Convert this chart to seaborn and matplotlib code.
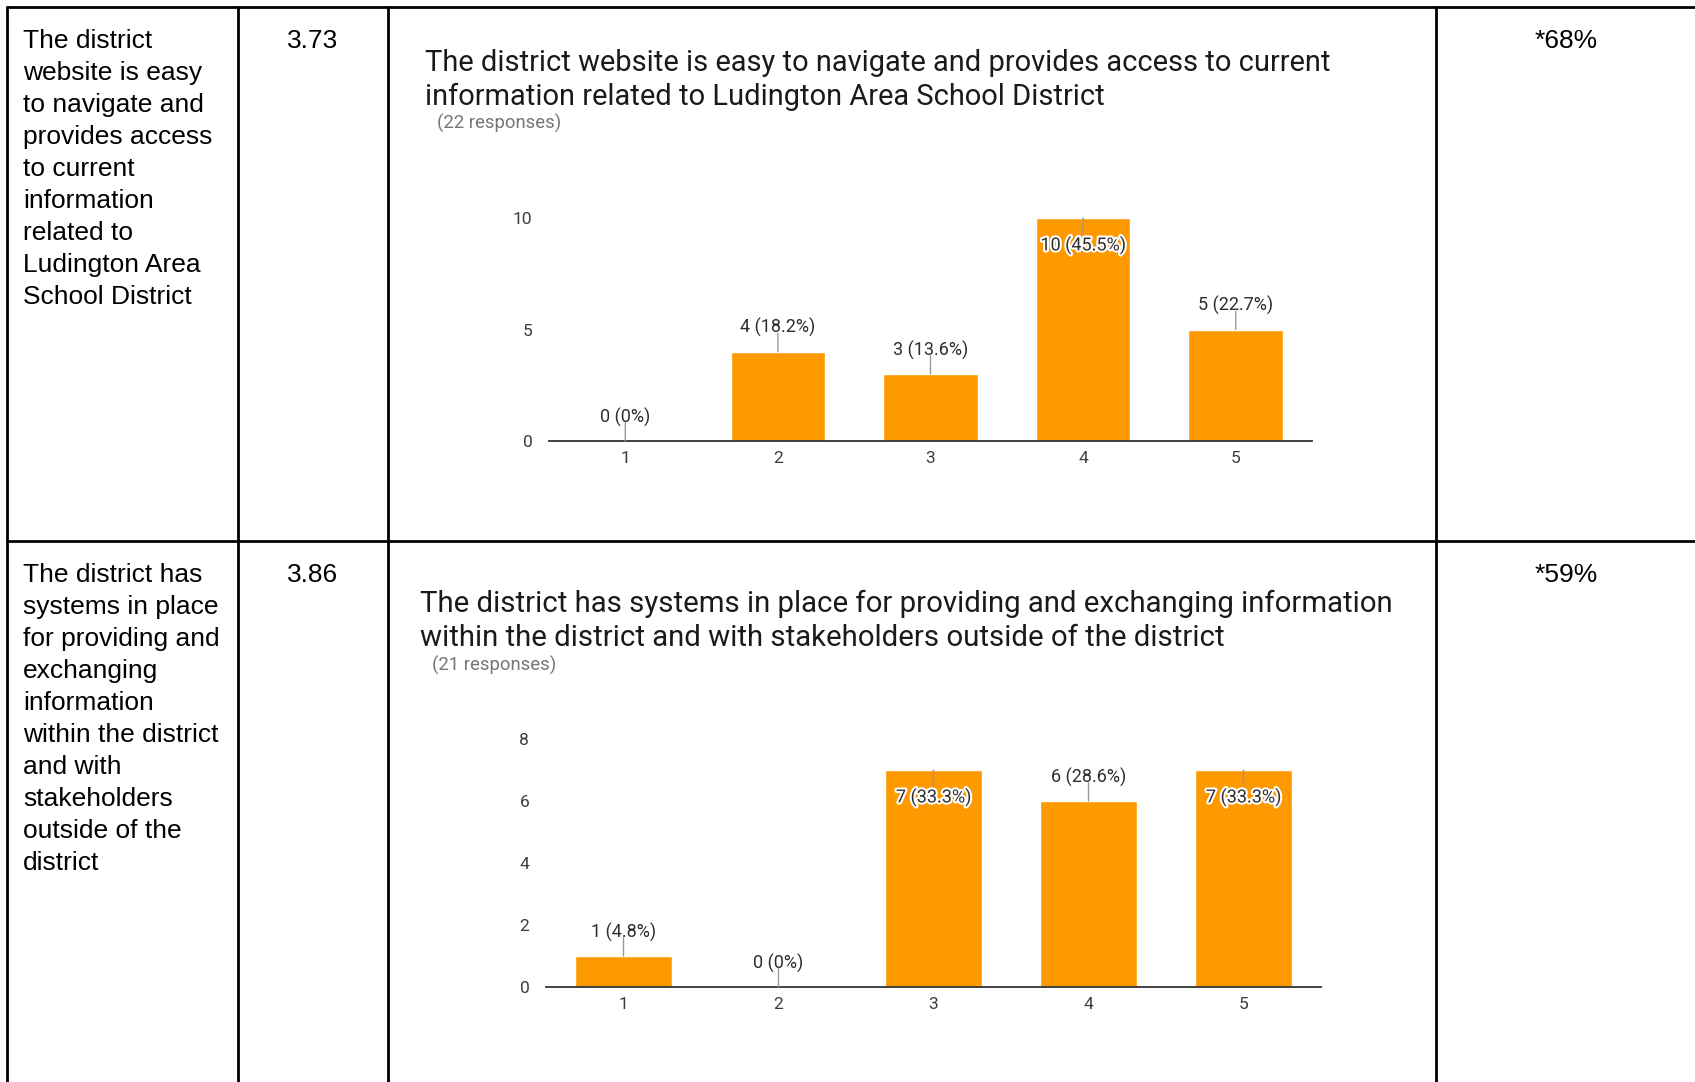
import matplotlib
matplotlib.use("Agg")
import matplotlib.pyplot as plt
import matplotlib.patheffects as pe
import seaborn as sns

# data
ratings = ["1", "2", "3", "4", "5"]
web_counts = [0, 4, 3, 10, 5]
web_pcts = ["0%", "18.2%", "13.6%", "45.5%", "22.7%"]
sys_counts = [1, 0, 7, 6, 7]
sys_pcts = ["4.8%", "0%", "33.3%", "28.6%", "33.3%"]

row1_lines = ["The district", "website is easy", "to navigate and", "provides access",
              "to current", "information", "related to", "Ludington Area", "School District"]
row2_lines = ["The district has", "systems in place", "for providing and", "exchanging",
              "information", "within the district", "and with", "stakeholders",
              "outside of the", "district"]
row_means = ["3.73", "3.86"]
row_agree = ["*68%", "*59%"]
chart1_title = ["The district website is easy to navigate and provides access to current",
                "information related to Ludington Area School District"]
chart2_title = ["The district has systems in place for providing and exchanging information",
                "within the district and with stakeholders outside of the district"]
responses = ["(22 responses)", "(21 responses)"]

W, H = 1695, 1082
ORANGE = "#FF9900"

sns.set_style("white")
plt.rcParams["font.family"] = ["Roboto", "DejaVu Sans"]

fig = plt.figure(figsize=(W / 100, H / 100), dpi=100)

# table background in pixel coordinates
bg = fig.add_axes([0, 0, 1, 1])
bg.set_xlim(0, W)
bg.set_ylim(H, 0)
bg.axis("off")

lw = 2
bg.plot([7, W], [7, 7], color="black", lw=lw)
bg.plot([7, W], [541, 541], color="black", lw=lw)
for x in [7, 238, 388, 1436]:
    bg.plot([x, x], [7, H], color="black", lw=lw)

table_font = dict(family="Liberation Sans", fontsize=19, color="black", va="baseline")
for i, line in enumerate(row1_lines):
    bg.text(23, 48 + i * 32, line, ha="left", **table_font)
for i, line in enumerate(row2_lines):
    bg.text(23, 582 + i * 32, line, ha="left", **table_font)
for y, m, a in zip([48, 582], row_means, row_agree):
    bg.text(313, y, m, ha="center", **table_font)
    bg.text(1566, y, a, ha="center", **table_font)

# chart titles
title_font = dict(fontsize=20.9, color="#1a1a1a", va="baseline", ha="left")
bg.text(425, 71, chart1_title[0], **title_font)
bg.text(425, 105, chart1_title[1], **title_font)
bg.text(437, 129, responses[0], fontsize=13.3, color="#757575", va="baseline")
bg.text(420, 612, chart2_title[0], fontsize=21.2, color="#1a1a1a", va="baseline")
bg.text(420, 646, chart2_title[1], fontsize=21.2, color="#1a1a1a", va="baseline")
bg.text(432, 671, responses[1], fontsize=13.3, color="#757575", va="baseline")


def draw_chart(ax, counts, pcts, ymax, yticks):
    sns.barplot(x=ratings, y=counts, ax=ax, color=ORANGE, saturation=1, width=0.62)
    ax.set_xlim(-0.5, 4.5)
    ax.set_ylim(0, ymax)
    ax.set_yticks(yticks)
    ax.set_xlabel("")
    ax.set_ylabel("")
    ax.set_facecolor("none")
    for s in ["top", "right", "left"]:
        ax.spines[s].set_visible(False)
    ax.spines["bottom"].set_color("#333333")
    ax.spines["bottom"].set_linewidth(1.3)
    ax.tick_params(axis="both", length=0, labelsize=12.5, labelcolor="#3c3c3c")
    ax.tick_params(axis="y", pad=12)
    ax.tick_params(axis="x", pad=7)
    top = max(counts)
    for i, (c, p) in enumerate(zip(counts, pcts)):
        inside = c == top
        sign = -1 if inside else 1
        # leader line
        ax.annotate("", xy=(i, c), xytext=(0, sign * 13.2), textcoords="offset points",
                    annotation_clip=False,
                    arrowprops=dict(arrowstyle="-", color="#999999", lw=1,
                                    shrinkA=0, shrinkB=0, patchA=None))
        ax.annotate(f"{c} ({p})", xy=(i, c), xytext=(0, -19.5 if inside else 17.3),
                    textcoords="offset points", ha="center", va="center",
                    fontsize=13, color="#2e2e2e", annotation_clip=False,
                    path_effects=[pe.withStroke(linewidth=3, foreground="white")] if inside else None)


ax1 = fig.add_axes([549 / W, (H - 441) / H, 763 / W, 223 / H])
draw_chart(ax1, web_counts, web_pcts, 10, [0, 5, 10])

ax2 = fig.add_axes([546 / W, (H - 987) / H, 775 / W, 248 / H])
draw_chart(ax2, sys_counts, sys_pcts, 8, [0, 2, 4, 6, 8])

fig.savefig("out.png", dpi=100)
